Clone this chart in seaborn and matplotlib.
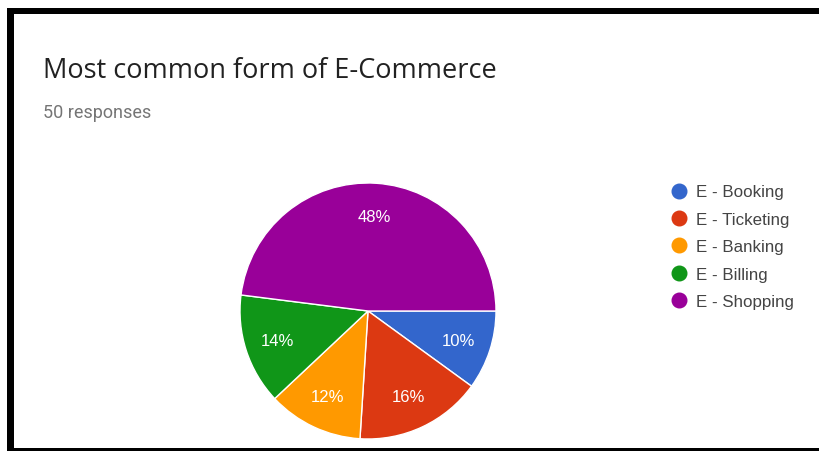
import matplotlib
matplotlib.use("Agg")
import matplotlib.pyplot as plt
from matplotlib.lines import Line2D
from matplotlib.patches import Rectangle
import seaborn as sns

# Survey results: most common form of e-commerce (50 responses)
categories = ["E - Booking", "E - Ticketing", "E - Banking", "E - Billing", "E - Shopping"]
shares = [10, 16, 12, 14, 48]
colors = ["#3366cc", "#dc3912", "#ff9900", "#109618", "#990099"]
title = "Most common form of E-Commerce"
subtitle = "50 responses"

sns.set_theme(style="white")
plt.rcParams["font.family"] = ["Roboto", "DejaVu Sans"]

W, H = 820, 452
fig = plt.figure(figsize=(W / 100, H / 100), dpi=100)
fig.patch.set_facecolor("white")

# pie axes: square box in pixels
cx, cy, r = 368, 312, 128
ax = fig.add_axes([(cx - r) / W, (H - cy - r) / H, 2 * r / W, 2 * r / H])
palette = sns.color_palette(colors)
wedges, texts, autotexts = ax.pie(
    shares,
    colors=palette,
    startangle=0,
    counterclock=False,
    autopct=lambda p: f"{p:.0f}%",
    pctdistance=0.74,
    wedgeprops=dict(edgecolor="white", linewidth=1.0),
    textprops=dict(color="white", fontsize=12, family=["Liberation Sans"]),
)
ax.set_xlim(-1, 1)
ax.set_ylim(-1, 1)
ax.set_aspect("equal")
ax.axis("off")

# legend with circular markers
handles = [
    Line2D([0], [0], marker="o", linestyle="", markersize=10.5,
           markerfacecolor=c, markeredgecolor=c)
    for c in palette
]
leg = fig.legend(
    handles, categories,
    loc="upper left",
    bbox_to_anchor=(660 / W, 1 - 177 / H),
    frameon=False,
    handletextpad=0.4,
    handlelength=1.2,
    labelspacing=0.73,
    borderpad=0,
    prop=dict(family=["Liberation Sans"], size=12.2),
)
for t in leg.get_texts():
    t.set_color("#444444")

# header texts
fig.text(43 / W, 1 - 78 / H, title, fontsize=19.5, color="#212121",
         family=["Open Sans"], ha="left", va="baseline")
fig.text(43 / W, 1 - 118 / H, subtitle, fontsize=13, color="#757575",
         ha="left", va="baseline")

# black frame around the card
frame = [
    (7, 9, W - 7, 6),     # top
    (7, 9, 7, H - 9),     # left
    (7, 449, W - 7, 3),   # bottom
]
for x, y, w, h in frame:
    fig.add_artist(Rectangle((x / W, 1 - (y + h) / H), w / W, h / H,
                             transform=fig.transFigure, facecolor="black",
                             edgecolor="none"))

fig.savefig("out.png", dpi=100, facecolor="white")
